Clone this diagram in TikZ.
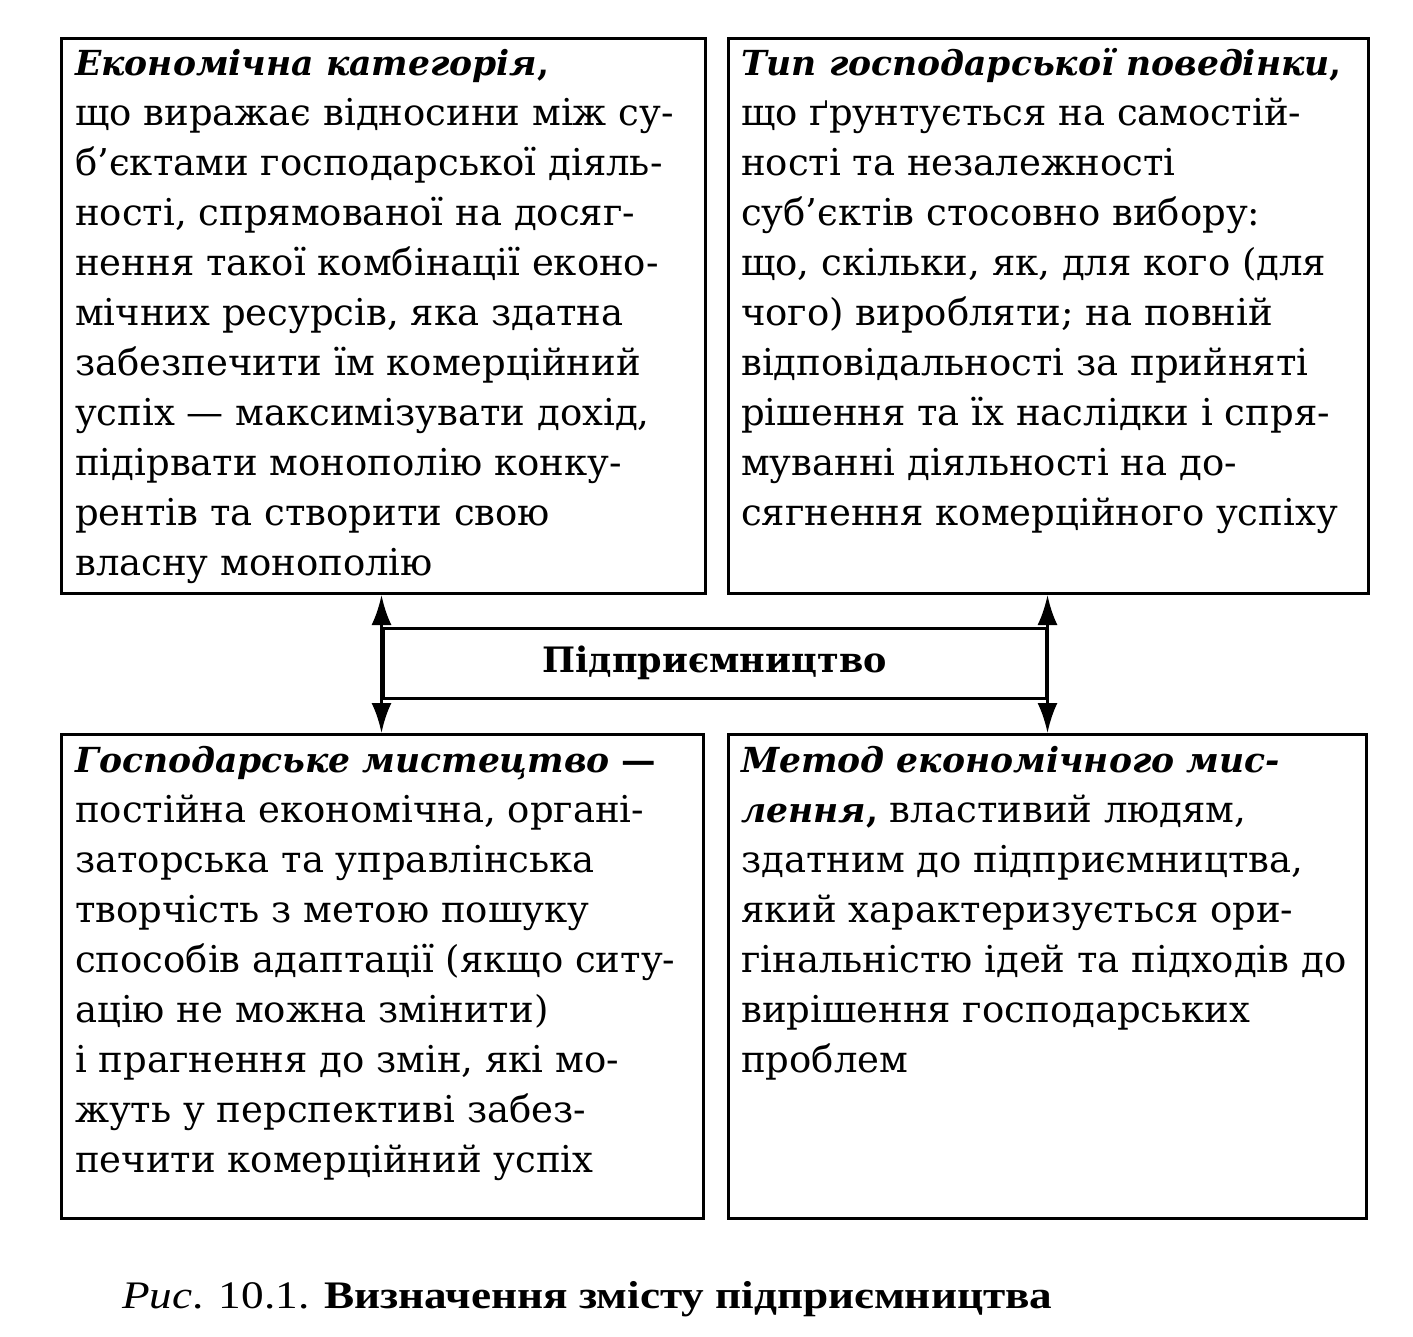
\documentclass[tikz,border=0pt]{standalone}
\usepackage{fontspec}
\setmainfont{DejaVu Serif}
\newfontfamily\capfont[FakeStretch=1.16]{Liberation Serif}
\usetikzlibrary{arrows.meta}
\newcommand{\hd}[1]{{\fontsize{34.5}{50}\selectfont\bfseries #1}}
\tikzset{
  frame/.style={draw, line width=3pt, inner sep=0pt, anchor=north west},
  body/.style={anchor=north west, inner sep=0pt, align=left, font=\fontsize{37}{50}\selectfont},
  link/.style={line width=3pt, {Latex[length=30pt,width=20pt]}-{Latex[length=30pt,width=20pt]}},
}
\begin{document}
\begin{tikzpicture}[x=1pt,y=-1pt]
\useasboundingbox (0,0) rectangle (1413,1336);
% boxes
\node[frame, minimum width=644pt, minimum height=555pt] (tl) at (60,37) {};
\node[frame, minimum width=640pt, minimum height=555pt] (tr) at (727,37) {};
\node[frame, minimum width=642pt, minimum height=484pt] (bl) at (60,733) {};
\node[frame, minimum width=638pt, minimum height=484pt] (br) at (727,733) {};
\node[draw, line width=3pt, minimum width=663pt, minimum height=70pt, inner sep=0pt,
      font=\fontsize{35}{40}\selectfont\bfseries] (mid) at (714.5,663) {Підприємництво};
% texts
\node[body] (tltext) at (75,40) {\strut\hd{\textit{Економічна категорія},}\\
що виражає відносини між су-\\
б’єктами господарської діяль-\\
ності, спрямованої на досяг-\\
нення такої комбінації еконо-\\
мічних ресурсів, яка здатна\\
забезпечити їм комерційний\\
успіх — максимізувати дохід,\\
підірвати монополію конку-\\
рентів та створити свою\\
власну монополію};
\node[body] (trtext) at (741,40) {\strut\hd{\textit{Тип господарської поведінки},}\\
що ґрунтується на самостій-\\
ності та незалежності\\
суб’єктів стосовно вибору:\\
що, скільки, як, для кого (для\\
чого) виробляти; на повній\\
відповідальності за прийняті\\
рішення та їх наслідки і спря-\\
муванні діяльності на до-\\
сягнення комерційного успіху};
\node[body] (bltext) at (75,737) {\strut\hd{\textit{Господарське мистецтво} —}\\
постійна економічна, органі-\\
заторська та управлінська\\
творчість з метою пошуку\\
способів адаптації (якщо ситу-\\
ацію не можна змінити)\\
і прагнення до змін, які мо-\\
жуть у перспективі забез-\\
печити комерційний успіх};
\node[body] (brtext) at (741,737) {\strut\hd{\textit{Метод економічного мис-}}\\
\hd{\textit{лення},} властивий людям,\\
здатним до підприємництва,\\
який характеризується ори-\\
гінальністю ідей та підходів до\\
вирішення господарських\\
проблем};
% connectors
\draw[link] (tl.south -| mid.west) -- (bl.north -| mid.west);
\draw[link] (tr.south -| mid.east) -- (br.north -| mid.east);
% caption
\node[anchor=base west, inner sep=0pt, font=\capfont\fontsize{39}{40}\selectfont] (cap) at (122,1308)
  {\textit{Рис}. 10.1. \textbf{Визначення змісту підприємництва}};
\end{tikzpicture}
\end{document}
